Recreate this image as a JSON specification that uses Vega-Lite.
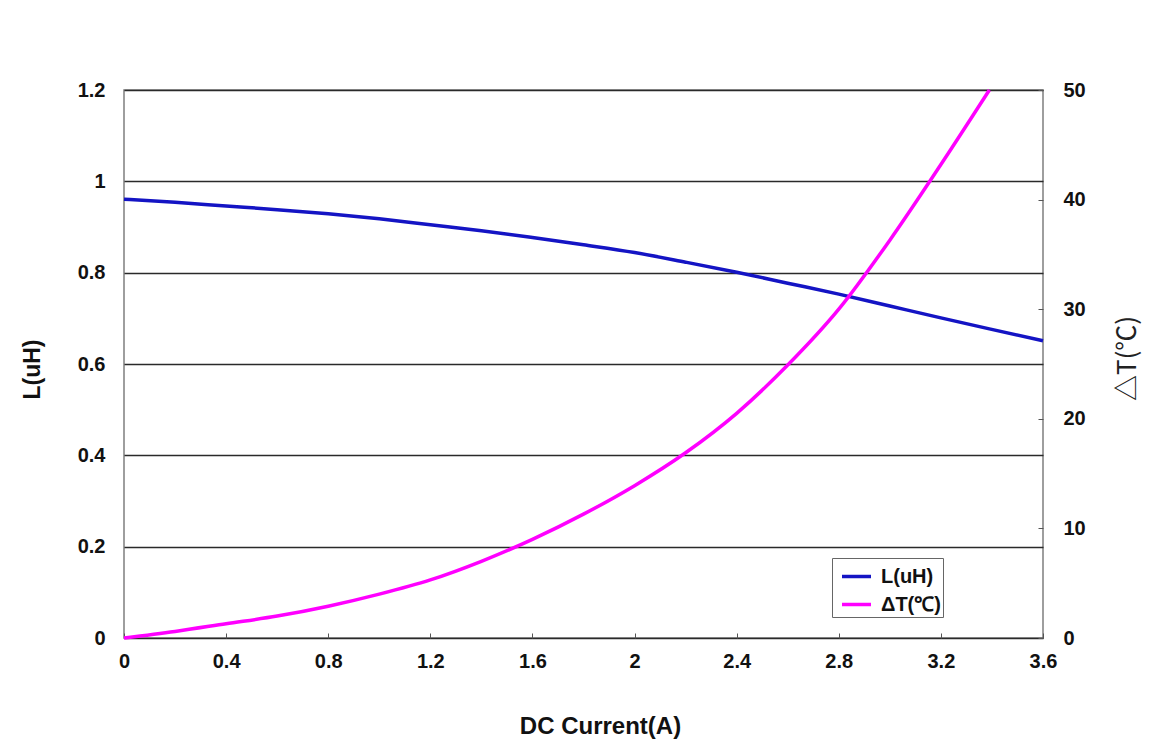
{
  "$schema": "https://vega.github.io/schema/vega-lite/v6.json",
  "width": 919,
  "height": 548,
  "autosize": {"type": "none"},
  "padding": {"left": 124, "top": 90, "right": 118, "bottom": 115},
  "background": "white",
  "config": {
    "view": {"stroke": "#7f7f7f", "strokeWidth": 1.5},
    "font": "Liberation Sans"
  },
  "data": {
    "values": [
      {"I": 0.0, "L": 0.961, "dT": 0.0},
      {"I": 0.2, "L": 0.954, "dT": 0.6},
      {"I": 0.4, "L": 0.946, "dT": 1.3},
      {"I": 0.6, "L": 0.938, "dT": 2.0},
      {"I": 0.8, "L": 0.929, "dT": 2.9},
      {"I": 1.0, "L": 0.918, "dT": 4.0},
      {"I": 1.2, "L": 0.905, "dT": 5.3},
      {"I": 1.4, "L": 0.892, "dT": 7.0},
      {"I": 1.6, "L": 0.877, "dT": 9.0},
      {"I": 1.8, "L": 0.861, "dT": 11.3},
      {"I": 2.0, "L": 0.844, "dT": 13.9},
      {"I": 2.2, "L": 0.823, "dT": 16.9},
      {"I": 2.4, "L": 0.801, "dT": 20.5},
      {"I": 2.6, "L": 0.777, "dT": 24.9},
      {"I": 2.8, "L": 0.753, "dT": 30.0},
      {"I": 3.0, "L": 0.727, "dT": 36.3},
      {"I": 3.2, "L": 0.701, "dT": 43.2},
      {"I": 3.39, "L": 0.677, "dT": 50.0},
      {"I": 3.6, "L": 0.651, "dT": null}
    ]
  },
  "encoding": {
    "x": {
      "field": "I",
      "type": "quantitative",
      "scale": {"domain": [0, 3.6], "nice": false},
      "axis": {
        "title": "DC Current(A)",
        "values": [0, 0.4, 0.8, 1.2, 1.6, 2, 2.4, 2.8, 3.2, 3.6],
        "format": "~g",
        "grid": false,
        "domain": false,
        "labelFlush": false,
        "tickSize": -5,
        "tickColor": "#555",
        "labelFont": "Liberation Sans",
        "labelFontWeight": "bold",
        "labelFontSize": 20,
        "labelColor": "#111",
        "labelPadding": 18,
        "titleFont": "Liberation Sans",
        "titleFontWeight": "bold",
        "titleFontSize": 24,
        "titleColor": "#111",
        "titleX": 476,
        "titleY": 88,
        "titleBaseline": "middle",
        "titleAnchor": "middle"
      }
    }
  },
  "layer": [
    {
      "mark": {"type": "line", "strokeWidth": 3.5, "interpolate": "monotone"},
      "encoding": {
        "y": {
          "field": "L",
          "type": "quantitative",
          "scale": {"domain": [0, 1.2], "nice": false},
          "axis": {
            "title": "L(uH)",
            "values": [0, 0.2, 0.4, 0.6, 0.8, 1, 1.2],
            "format": "~g",
            "grid": true,
            "gridColor": "#2a2a2a",
            "gridWidth": 1.3,
            "domain": false,
            "ticks": false,
            "labelFlush": false,
            "labelFont": "Liberation Sans",
            "labelFontWeight": "bold",
            "labelFontSize": 20,
            "labelColor": "#111",
            "labelPadding": 19,
            "titleFont": "Liberation Sans",
            "titleFontWeight": "bold",
            "titleFontSize": 23,
            "titleColor": "#111",
            "titleX": -92,
            "titleY": 279,
            "titleBaseline": "middle",
            "titleAnchor": "middle"
          }
        },
        "color": {
          "datum": "L(uH)",
          "type": "nominal",
          "scale": {"domain": ["L(uH)", "ΔT(℃)"], "range": ["#1414c4", "#ff00ff"]},
          "legend": {
            "title": null,
            "orient": "none",
            "legendX": 708,
            "legendY": 468,
            "symbolType": "stroke",
            "symbolSize": 841,
            "symbolStrokeWidth": 3.5,
            "symbolOffset": 6,
            "labelFont": "Liberation Sans",
            "labelFontWeight": "bold",
            "labelFontSize": 20,
            "labelColor": "#111",
            "labelOffset": 8,
            "rowPadding": 1,
            "padding": 2,
            "strokeColor": "#666",
            "fillColor": "white"
          }
        }
      }
    },
    {
      "mark": {"type": "line", "strokeWidth": 3.5, "interpolate": "monotone"},
      "encoding": {
        "y": {
          "field": "dT",
          "type": "quantitative",
          "scale": {"domain": [0, 50], "nice": false},
          "axis": {
            "orient": "right",
            "title": "△T(℃)",
            "titleAngle": -90,
            "values": [0, 10, 20, 30, 40, 50],
            "grid": false,
            "domain": false,
            "labelFlush": false,
            "tickSize": -5,
            "tickColor": "#555",
            "labelFont": "Liberation Sans",
            "labelFontWeight": "bold",
            "labelFontSize": 20,
            "labelColor": "#111",
            "labelPadding": 25,
            "titleFont": "Noto Sans CJK SC",
            "titleFontWeight": "normal",
            "titleFontSize": 26,
            "titleColor": "#222",
            "titleX": 84,
            "titleY": 268,
            "titleBaseline": "middle",
            "titleAnchor": "middle"
          }
        },
        "color": {"datum": "ΔT(℃)", "type": "nominal"}
      }
    }
  ],
  "resolve": {"scale": {"y": "independent"}}
}
